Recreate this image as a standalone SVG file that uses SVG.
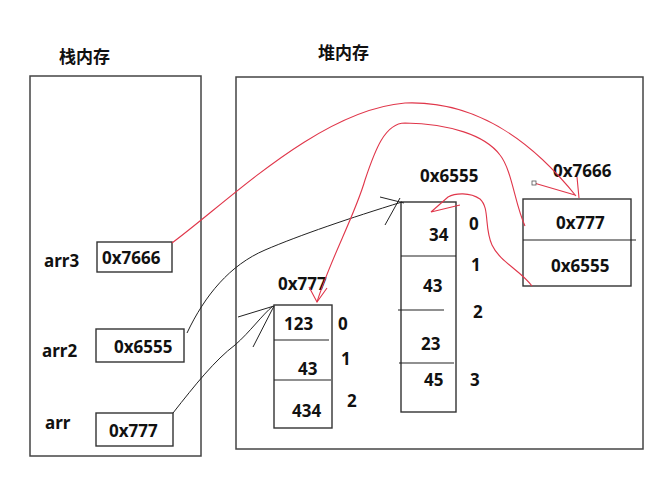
<svg xmlns="http://www.w3.org/2000/svg" width="662" height="477" viewBox="0 0 662 477">
<style>
text{font-family:"Noto Sans","Noto Sans CJK SC",sans-serif;font-weight:bold;font-size:17px;fill:#111}
.cjk{font-family:"Noto Sans CJK SC",sans-serif}
.area{fill:none;stroke:#444;stroke-width:1.5}
.box{fill:#fff;stroke:#333;stroke-width:1.4}
.div{stroke:#222;stroke-width:1.2}
.blk{fill:none;stroke:#222;stroke-width:1}
.red{fill:none;stroke:#e0364a;stroke-width:1.1}
</style>
<rect width="662" height="477" fill="#fff"/>
<g id="stack">
<rect class="area" x="30" y="76" width="171" height="380"/>
<text class="cjk" x="59" y="63">栈内存</text>
</g>
<g id="heap">
<rect class="area" x="236" y="77" width="407" height="372"/>
<text class="cjk" x="318" y="59">堆内存</text>
</g>
<g id="arr3">
<text x="44" y="267">arr3</text>
<rect class="box" x="97" y="242" width="75" height="30"/>
<text x="102" y="264">0x7666</text>
</g>
<g id="arr2">
<text x="42" y="357">arr2</text>
<rect class="box" x="96" y="329" width="88" height="33"/>
<text x="114" y="353">0x6555</text>
</g>
<g id="arr">
<text x="45" y="429">arr</text>
<rect class="box" x="96" y="413" width="77" height="33"/>
<text x="109" y="437">0x777</text>
</g>
<g id="array777">
<text x="278" y="290">0x777</text>
<rect class="box" x="274" y="305" width="58" height="123"/>
<line class="div" x1="274" y1="340" x2="329" y2="340"/>
<line class="div" x1="274" y1="380" x2="331" y2="380"/>
<text x="284" y="330">123</text>
<text x="298" y="375">43</text>
<text x="292" y="417">434</text>
<text x="338" y="330">0</text>
<text x="341" y="365">1</text>
<text x="347" y="407">2</text>
</g>
<g id="array6555">
<text x="420" y="182">0x6555</text>
<rect class="box" x="401" y="202" width="55" height="210"/>
<line class="div" x1="401" y1="256" x2="456" y2="256"/>
<line class="div" x1="398" y1="310" x2="444" y2="310"/>
<line class="div" x1="399" y1="363" x2="454" y2="363"/>
<text x="429" y="241">34</text>
<text x="423" y="292">43</text>
<text x="421" y="350">23</text>
<text x="424" y="386">45</text>
<text x="469" y="230">0</text>
<text x="471" y="271">1</text>
<text x="473" y="318">2</text>
<text x="470" y="386">3</text>
</g>
<g id="array7666">
<text x="553" y="177">0x7666</text>
<rect class="box" x="523" y="199" width="108" height="87"/>
<line class="div" x1="523" y1="240" x2="636" y2="240"/>
<text x="556" y="229">0x777</text>
<text x="551" y="272">0x6555</text>
</g>
<g id="connectors">
<path class="blk" d="M187,333 C205,295 230,265 265,250 C300,235 350,218 402,202"/>
<path class="blk" d="M380,197 L404,203 M385,225 L400,198"/>
<path class="blk" d="M173,413 C195,385 215,360 235,345 C250,332 262,315 273,306"/>
<path class="blk" d="M238,317 L274,306 L253,347"/>
<path class="red" d="M172,243 C230,200 320,110 405,103 C480,100 535,145 576,196"/>
<path class="red" d="M534,183 L575,195 M577,177 L579,198"/>
<rect x="532" y="181" width="4" height="4" fill="#fff" stroke="#555" stroke-width="0.8"/>
<path class="red" d="M525,226 C515,205 512,170 500,155 C485,135 450,124 405,123 C385,123 375,150 365,180 C355,215 330,260 317,302"/>
<path class="red" d="M309,287 L317,302 L327,288"/>
<path class="red" d="M532,286 C520,270 500,262 492,245 C484,228 490,208 480,199 C470,192 455,193 448,197 L431,212 L460,205"/>
</g>
</svg>
